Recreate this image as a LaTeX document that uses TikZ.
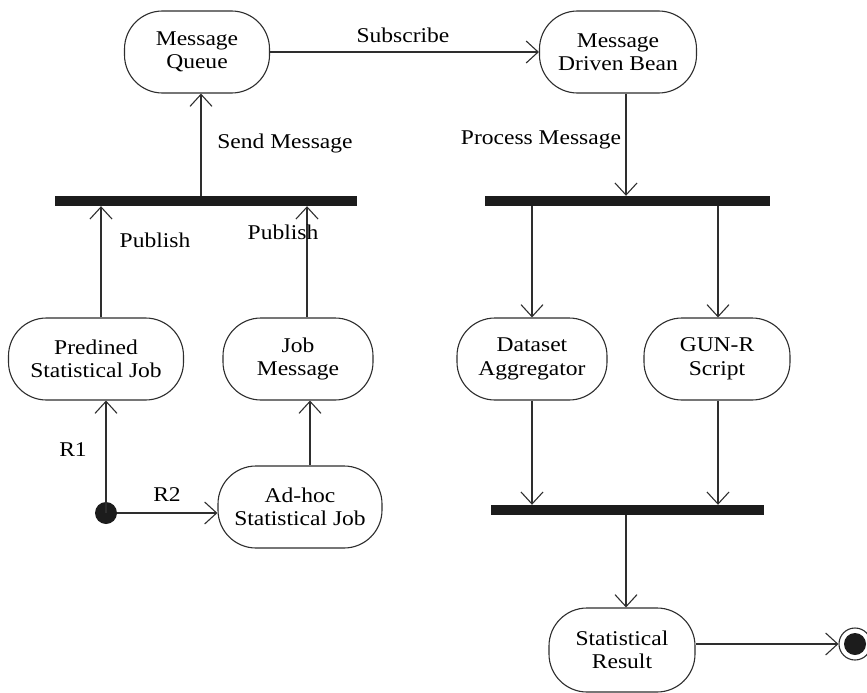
\documentclass[tikz,border=0pt]{standalone}
\usepackage{fontspec}
\setmainfont{Liberation Serif}[FakeStretch=1.12]
\usetikzlibrary{arrows.meta,calc}
\definecolor{ink}{HTML}{2E2E2E}
\definecolor{barc}{HTML}{1C1C1C}
\tikzset{
  act/.style={draw=ink, line width=1.1pt, rounded corners=38pt, fill=white,
    minimum height=82pt, align=center, font=\fontsize{21}{23.5}\selectfont, inner sep=2pt},
  syncbar/.style={fill=barc, draw=none, minimum height=10pt, inner sep=0pt},
  flow/.style={draw=ink, line width=1.1pt, -{Straight Barb[length=12pt,width=22pt,line width=1.1pt]}},
  lbl/.style={font=\fontsize{21}{23.5}\selectfont, inner sep=0pt, text=black}
}
\begin{document}
\begin{tikzpicture}[x=1pt,y=-1pt]
\useasboundingbox (0,0) rectangle (867,693);
% activities
\node[act, minimum width=145pt] (mq) at (197,52) {Message\\Queue};
\node[act, minimum width=157pt] (mdb) at (618,52) {Message\\Driven Bean};
\node[act, minimum width=175pt] (pj) at (96,359) {Predined\\Statistical Job};
\node[act, minimum width=150pt] (jm) at (298,359) {Job\\Message};
\node[act, minimum width=164pt] (ah) at (300,507) {Ad-hoc\\Statistical Job};
\node[act, minimum width=150pt] (da) at (532,359) {Dataset\\Aggregator};
\node[act, minimum width=146pt] (gr) at (717,359) {GUN-R\\Script};
\node[act, minimum width=146pt, minimum height=84pt] (sr) at (622,650) {Statistical\\Result};
% bars
\node[syncbar, minimum width=302pt] (bar1) at (206,201) {};
\node[syncbar, minimum width=285pt] (bar2) at (627,201) {};
\node[syncbar, minimum width=273pt] (bar3) at (627,510) {};
% initial and final
\node[circle, fill=barc, minimum size=22pt, inner sep=0pt] (init) at (106,513) {};
\node[circle, draw=ink, line width=1.1pt, fill=white, minimum size=32pt, inner sep=0pt] (fin) at (855,644) {};
\node[circle, fill=barc, minimum size=22pt, inner sep=0pt] (finc) at (855,644) {};
% connectors
\draw[flow] (mq.east) -- (mdb.west);
\draw[flow] ([xshift=4pt]bar1.north -| mq.south) -- ([xshift=4pt]mq.south);
\draw[flow] ([xshift=5pt]pj.north) -- ([xshift=5pt]pj.north |- bar1.south);
\draw[flow] ([xshift=9pt]jm.north) -- ([xshift=9pt]jm.north |- bar1.south);
\draw[flow] ([xshift=8pt]mdb.south) -- ([xshift=8pt]mdb.south |- bar2.north);
\draw[flow] (da.north |- bar2.south) -- (da.north);
\draw[flow] ([xshift=1pt]gr.north |- bar2.south) -- ([xshift=1pt]gr.north);
\draw[flow] (da.south) -- (da.south |- bar3.north);
\draw[flow] ([xshift=1pt]gr.south) -- ([xshift=1pt]gr.south |- bar3.north);
\draw[flow] ([xshift=4pt]sr.north |- bar3.south) -- ([xshift=4pt]sr.north);
\draw[flow] (sr.east |- fin.west) -- (fin.west);
\draw[flow] (init.center) -- (init.center |- pj.south);
\draw[flow] (init.east) -- (ah.west |- init.east);
\draw[flow] ([xshift=10pt]ah.north) -- ([xshift=10pt]ah.north |- jm.south);
% labels
\node[lbl] (l1) at (403,35) {Subscribe};
\node[lbl] (l2) at (285,143) {Send Message};
\node[lbl] (l3) at (155,240) {Publish};
\node[lbl] (l4) at (283,232) {Publish};
\node[lbl] (l5) at (541,140) {Process Message};
\node[lbl] (l6) at (73,450) {R1};
\node[lbl] (l7) at (167,495) {R2};
\end{tikzpicture}
\end{document}
